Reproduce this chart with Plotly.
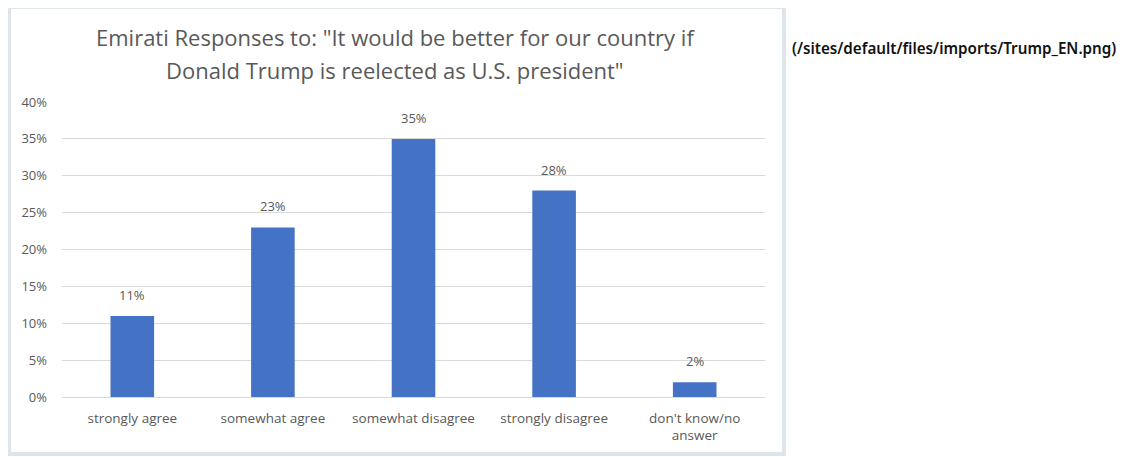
import plotly.graph_objects as go

categories = ["strongly agree", "somewhat agree", "somewhat disagree", "strongly disagree", "don't know/no<br>answer"]
values = [0.11, 0.23, 0.35, 0.28, 0.02]
labels = ["11%", "23%", "35%", "28%", "2%"]
tick_vals = [0, 0.05, 0.10, 0.15, 0.20, 0.25, 0.30, 0.35, 0.40]
tick_text = ["0%", "5%", "10%", "15%", "20%", "25%", "30%", "35%", "40%"]

title_line1 = 'Emirati Responses to: "It would be better for our country if'
title_line2 = 'Donald Trump is reelected as U.S. president"'
caption = "(/sites/default/files/imports/Trump_EN.png)"

gray = "#595959"
font_family = "Open Sans, Liberation Sans, sans-serif"

OFF = 8  # default page body margin
W, H = 1127 - OFF, 457 - OFF
L = 62 - OFF
R = W - (765 - OFF)
T = 102 - OFF
B = H - (397 - OFF)
pw, ph = W - L - R, H - T - B


def px(x):
    return (x - OFF - L) / pw


def py(y):
    return (H - B - (y - OFF)) / ph


fig = go.Figure(go.Bar(
    x=categories, y=values,
    marker=dict(color="#4472c4", line=dict(width=0)),
    width=0.31,
    hoverinfo="x+y",
))

annotations = [
    dict(x=c, y=v, text=t, xref="x", yref="y", showarrow=False,
         xanchor="center", yanchor="bottom", yshift=10,
         font=dict(family=font_family, size=13, color=gray))
    for c, v, t in zip(categories, values, labels)
]
annotations += [
    dict(text=title_line1, xref="paper", yref="paper", x=px(395.5), y=py(37),
         xanchor="center", yanchor="middle", showarrow=False,
         font=dict(family=font_family, size=22, color=gray)),
    dict(text=title_line2, xref="paper", yref="paper", x=px(395), y=py(70),
         xanchor="center", yanchor="middle", showarrow=False,
         font=dict(family=font_family, size=22, color=gray)),
    dict(text=caption, xref="paper", yref="paper", x=px(790), y=py(48),
         xanchor="left", yanchor="middle", showarrow=False,
         font=dict(family="Noto Sans, sans-serif", size=15.2, color="#111111", weight=600)),
]

fig.update_layout(
    width=W, height=H,
    margin=dict(l=L, r=R, t=T, b=B, pad=0),
    paper_bgcolor="white", plot_bgcolor="white",
    showlegend=False,
    font=dict(family=font_family, color=gray),
    xaxis=dict(showline=False, showgrid=False, ticks="", tickfont=dict(size=13.5, color=gray),
               ticklabelstandoff=11),
    yaxis=dict(range=[0, 0.4], tickvals=tick_vals, ticktext=tick_text,
               showgrid=True, gridcolor="#d9d9d9", gridwidth=1,
               zeroline=True, zerolinecolor="#d9d9d9", zerolinewidth=1,
               showline=False, ticks="", tickfont=dict(size=13, color=gray),
               ticklabelstandoff=14),
    shapes=[dict(type="rect", xref="paper", yref="paper",
                 x0=px(9), x1=px(784), y0=py(454), y1=py(7),
                 line=dict(color="#dde4ea", width=4), fillcolor="rgba(0,0,0,0)", layer="below")],
    annotations=annotations,
)

fig.write_html("out.html")
